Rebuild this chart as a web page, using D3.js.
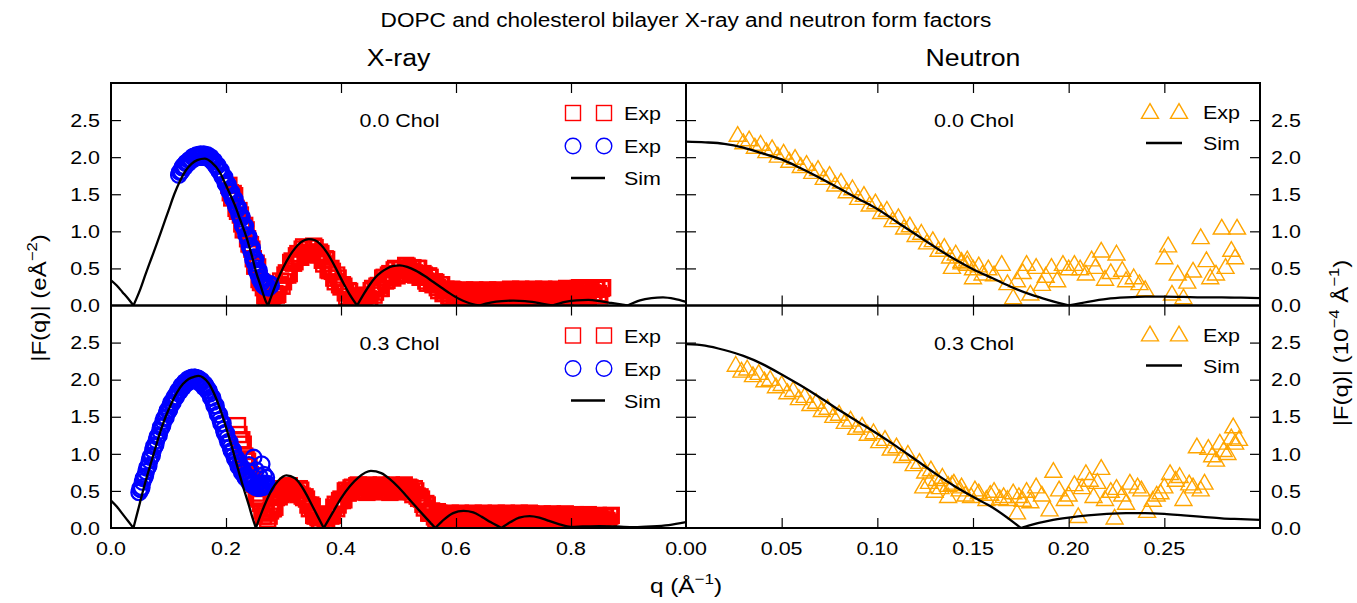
<!DOCTYPE html>
<html>
<head>
<meta charset="utf-8">
<script src="https://cdn.jsdelivr.net/npm/d3@7"></script>
<style>
  body { margin: 0; background: #fff; }
  svg text { font-family: "Liberation Sans", Arial, Helvetica, sans-serif; fill: #000; }
</style>
</head>
<body>
<svg id="chart" width="1357" height="603"></svg>
<script>
// ---- ticks / labels ----
const xrayTicks = [0.2, 0.4, 0.6, 0.8];
const xrayTickLabels = [0, 0.2, 0.4, 0.6, 0.8];
const neutTicks = [0.05, 0.1, 0.15, 0.2, 0.25];
const neutTickLabels = [0, 0.05, 0.1, 0.15, 0.2, 0.25];
const yTicks = [0.5, 1, 1.5, 2, 2.5];
const yTickLabels = [0, 0.5, 1, 1.5, 2, 2.5];

// ---- X-ray, 0.0 Chol ----
const xraySim00 = [[0,0.34],[0.01,0.27],[0.02,0.18],[0.03,0.09],[0.039,0],[0.05,0.2],[0.06,0.42],[0.07,0.63],[0.08,0.84],[0.09,1.06],[0.1,1.28],[0.11,1.5],[0.12,1.68],[0.13,1.82],[0.14,1.91],[0.15,1.96],[0.163,1.98],[0.175,1.93],[0.189,1.8],[0.2,1.62],[0.215,1.36],[0.225,1.15],[0.236,0.91],[0.245,0.67],[0.252,0.46],[0.26,0.27],[0.269,0.06],[0.273,0],[0.28,0.15],[0.29,0.35],[0.3,0.52],[0.31,0.66],[0.32,0.77],[0.33,0.85],[0.344,0.895],[0.355,0.88],[0.365,0.82],[0.375,0.72],[0.385,0.59],[0.395,0.44],[0.405,0.29],[0.415,0.15],[0.428,0],[0.44,0.16],[0.45,0.28],[0.46,0.38],[0.47,0.45],[0.48,0.5],[0.49,0.53],[0.502,0.54],[0.515,0.52],[0.53,0.47],[0.545,0.4],[0.56,0.32],[0.575,0.24],[0.59,0.16],[0.605,0.09],[0.62,0.04],[0.64,0],[0.66,0.04],[0.68,0.06],[0.7,0.065],[0.72,0.06],[0.74,0.04],[0.767,0],[0.79,0.05],[0.81,0.07],[0.83,0.075],[0.85,0.06],[0.87,0.035],[0.898,0],[0.92,0.07],[0.94,0.1],[0.96,0.11],[0.98,0.09],[1.0,0.05]];
const xrayRed00 = [[0.205,1.62],[0.21,1.45],[0.215,1.48],[0.22,1.27],[0.225,1.22],[0.23,1.02],[0.235,1.02],[0.24,0.83],[0.245,0.76],[0.25,0.53],[0.255,0.52],[0.26,0.31],[0.265,0.24],[0.27,0.06],[0.275,0.11],[0.28,0.06],[0.285,0.16],[0.29,0.15],[0.295,0.33],[0.3,0.32],[0.305,0.44],[0.31,0.43],[0.315,0.6],[0.32,0.59],[0.325,0.7],[0.33,0.65],[0.335,0.79],[0.34,0.72],[0.345,0.78],[0.35,0.69],[0.355,0.78],[0.36,0.68],[0.365,0.7],[0.37,0.56],[0.375,0.62],[0.38,0.47],[0.385,0.46],[0.39,0.32],[0.395,0.37],[0.4,0.25],[0.405,0.26],[0.41,0.12],[0.415,0.19],[0.42,0.07],[0.425,0.1],[0.43,0.04],[0.435,0.12],[0.44,0.06],[0.445,0.14],[0.45,0.08],[0.455,0.23],[0.46,0.18],[0.465,0.27],[0.47,0.23],[0.475,0.38],[0.48,0.34],[0.485,0.43],[0.49,0.37],[0.495,0.5],[0.5,0.43],[0.505,0.49],[0.51,0.42],[0.515,0.53],[0.52,0.46],[0.525,0.51],[0.53,0.41],[0.535,0.5],[0.54,0.39],[0.545,0.41],[0.55,0.3],[0.555,0.38],[0.56,0.28],[0.565,0.31],[0.57,0.2],[0.575,0.28],[0.58,0.17],[0.585,0.2],[0.59,0.11],[0.595,0.21],[0.6,0.13],[0.605,0.19],[0.61,0.1],[0.615,0.21],[0.62,0.11],[0.625,0.16],[0.63,0.09],[0.635,0.2],[0.64,0.13],[0.645,0.19],[0.65,0.1],[0.655,0.21],[0.66,0.12],[0.665,0.17],[0.67,0.09],[0.675,0.2],[0.68,0.13],[0.685,0.19],[0.69,0.1],[0.695,0.22],[0.7,0.13],[0.705,0.18],[0.71,0.1],[0.715,0.21],[0.72,0.14],[0.725,0.2],[0.73,0.11],[0.735,0.22],[0.74,0.13],[0.745,0.18],[0.75,0.1],[0.755,0.21],[0.76,0.14],[0.765,0.2],[0.77,0.11],[0.775,0.22],[0.78,0.14],[0.785,0.19],[0.79,0.11],[0.795,0.22],[0.8,0.15],[0.805,0.22],[0.81,0.13],[0.815,0.24],[0.82,0.15],[0.825,0.2],[0.83,0.12],[0.835,0.23],[0.84,0.16],[0.845,0.22],[0.85,0.13],[0.855,0.24]];
const xrayRed00b = [[0.2075,1.52],[0.2125,1.51],[0.2175,1.31],[0.2225,1.28],[0.2275,1.1],[0.2325,1.08],[0.2375,0.9],[0.2425,0.82],[0.2475,0.63],[0.2525,0.57],[0.2575,0.35],[0.2625,0.31],[0.2675,0.13],[0.2725,0.15],[0.2775,0.06],[0.2825,0.14],[0.2875,0.14],[0.2925,0.28],[0.2975,0.26],[0.3025,0.41],[0.3075,0.41],[0.3125,0.58],[0.3175,0.57],[0.3225,0.67],[0.3275,0.66],[0.3325,0.76],[0.3375,0.69],[0.3425,0.78],[0.3475,0.71],[0.3525,0.8],[0.3575,0.7],[0.3625,0.72],[0.3675,0.61],[0.3725,0.63],[0.3775,0.48],[0.3825,0.5],[0.3875,0.37],[0.3925,0.41],[0.3975,0.28],[0.4025,0.28],[0.4075,0.17],[0.4125,0.2],[0.4175,0.06],[0.4225,0.12],[0.4275,0.03],[0.4325,0.13],[0.4375,0.06],[0.4425,0.13],[0.4475,0.09],[0.4525,0.2],[0.4575,0.14],[0.4625,0.26],[0.4675,0.23],[0.4725,0.37],[0.4775,0.33],[0.4825,0.41],[0.4875,0.38],[0.4925,0.48],[0.4975,0.4],[0.5025,0.49],[0.5075,0.43],[0.5125,0.54],[0.5175,0.47],[0.5225,0.51],[0.5275,0.44],[0.5325,0.5],[0.5375,0.38],[0.5425,0.43],[0.5475,0.33],[0.5525,0.4],[0.5575,0.3],[0.5625,0.32],[0.5675,0.24],[0.5725,0.28],[0.5775,0.16],[0.5825,0.22],[0.5875,0.13],[0.5925,0.22],[0.5975,0.14],[0.6025,0.19],[0.6075,0.13],[0.6125,0.2],[0.6175,0.1],[0.6225,0.17],[0.6275,0.1],[0.6325,0.21],[0.6375,0.14],[0.6425,0.19],[0.6475,0.13],[0.6525,0.2],[0.6575,0.1],[0.6625,0.18],[0.6675,0.11],[0.6725,0.21],[0.6775,0.14],[0.6825,0.19],[0.6875,0.13],[0.6925,0.2],[0.6975,0.11],[0.7025,0.19],[0.7075,0.12],[0.7125,0.22],[0.7175,0.15],[0.7225,0.2],[0.7275,0.14],[0.7325,0.21],[0.7375,0.11],[0.7425,0.19],[0.7475,0.12],[0.7525,0.22],[0.7575,0.15],[0.7625,0.2],[0.7675,0.14],[0.7725,0.21],[0.7775,0.11],[0.7825,0.2],[0.7875,0.13],[0.7925,0.23],[0.7975,0.16],[0.8025,0.22],[0.8075,0.16],[0.8125,0.23],[0.8175,0.13],[0.8225,0.21],[0.8275,0.14],[0.8325,0.24],[0.8375,0.17],[0.8425,0.22],[0.8475,0.16],[0.8525,0.23]];
const xrayBlue00 = [[0.118,1.76],[0.121,1.8],[0.124,1.86],[0.127,1.87],[0.13,1.92],[0.133,1.92],[0.136,1.96],[0.139,1.96],[0.142,2.0],[0.145,1.99],[0.148,2.02],[0.151,2.0],[0.154,2.03],[0.157,2.0],[0.16,2.03],[0.163,2.0],[0.166,2.01],[0.169,1.99],[0.172,1.98],[0.175,1.96],[0.178,1.95],[0.181,1.9],[0.184,1.88],[0.187,1.83],[0.19,1.81],[0.193,1.75],[0.196,1.72],[0.199,1.65],[0.202,1.62],[0.205,1.55],[0.208,1.52],[0.211,1.45],[0.214,1.42],[0.217,1.34],[0.22,1.3],[0.223,1.22],[0.226,1.17],[0.229,1.08],[0.232,1.04],[0.235,0.95],[0.238,0.89],[0.241,0.8],[0.244,0.73],[0.247,0.62],[0.25,0.57],[0.253,0.47],[0.256,0.42],[0.259,0.35],[0.262,0.31],[0.265,0.27],[0.268,0.25],[0.271,0.26],[0.274,0.24],[0.277,0.29]];
const xrayBlue00b = [[0.1195,1.8],[0.1225,1.81],[0.1255,1.88],[0.1285,1.87],[0.1315,1.93],[0.1345,1.92],[0.1375,1.97],[0.1405,1.96],[0.1435,2.01],[0.1465,1.99],[0.1495,2.03],[0.1525,2.0],[0.1555,2.04],[0.1585,2.0],[0.1615,2.04],[0.1645,2.0],[0.1675,2.03],[0.1705,1.98],[0.1735,2.0],[0.1765,1.94],[0.1795,1.95],[0.1825,1.88],[0.1855,1.89],[0.1885,1.81],[0.1915,1.82],[0.1945,1.73],[0.1975,1.73],[0.2005,1.63],[0.2035,1.63],[0.2065,1.53],[0.2095,1.53],[0.2125,1.43],[0.2155,1.43],[0.2185,1.32],[0.2215,1.32],[0.2245,1.2],[0.2275,1.2],[0.2305,1.07],[0.2335,1.07],[0.2365,0.94],[0.2395,0.93],[0.2425,0.8],[0.2455,0.78],[0.2485,0.65],[0.2515,0.62],[0.2545,0.5],[0.2575,0.47],[0.2605,0.37],[0.2635,0.35],[0.2665,0.28],[0.2695,0.29],[0.2725,0.25],[0.2755,0.29],[0.2785,0.27]];

// ---- X-ray, 0.3 Chol ----
const xraySim03 = [[0,0.37],[0.01,0.29],[0.02,0.19],[0.03,0.09],[0.039,0],[0.045,0.18],[0.05,0.33],[0.058,0.57],[0.065,0.76],[0.075,1.02],[0.085,1.28],[0.095,1.5],[0.105,1.68],[0.115,1.83],[0.125,1.94],[0.135,2.01],[0.145,2.04],[0.152,2.05],[0.16,2.03],[0.17,1.95],[0.18,1.8],[0.19,1.6],[0.2,1.36],[0.21,1.1],[0.22,0.82],[0.23,0.55],[0.24,0.3],[0.246,0.14],[0.252,0],[0.26,0.17],[0.27,0.36],[0.28,0.52],[0.29,0.63],[0.305,0.71],[0.32,0.67],[0.33,0.58],[0.34,0.45],[0.35,0.3],[0.36,0.15],[0.37,0],[0.385,0.2],[0.4,0.4],[0.415,0.56],[0.43,0.68],[0.452,0.77],[0.47,0.74],[0.485,0.66],[0.5,0.55],[0.515,0.42],[0.53,0.29],[0.545,0.16],[0.564,0],[0.58,0.12],[0.595,0.2],[0.613,0.23],[0.63,0.21],[0.645,0.15],[0.66,0.08],[0.679,0],[0.695,0.08],[0.71,0.14],[0.728,0.16],[0.745,0.14],[0.76,0.1],[0.78,0.05],[0.8,0.015],[0.82,0.02],[0.85,0.025],[0.88,0.02],[0.91,0.01],[0.94,0.02],[0.97,0.04],[1.0,0.08]];
const xrayRed03 = [[0.22,1.38],[0.225,1.18],[0.23,1.13],[0.235,0.93],[0.24,0.83],[0.245,0.63],[0.25,0.59],[0.255,0.41],[0.26,0.33],[0.265,0.16],[0.27,0.2],[0.275,0.16],[0.28,0.26],[0.285,0.28],[0.29,0.44],[0.295,0.45],[0.3,0.53],[0.305,0.48],[0.31,0.57],[0.315,0.5],[0.32,0.52],[0.325,0.45],[0.33,0.51],[0.335,0.41],[0.34,0.39],[0.345,0.26],[0.35,0.29],[0.355,0.16],[0.36,0.14],[0.365,0.05],[0.37,0.14],[0.375,0.11],[0.38,0.19],[0.385,0.17],[0.39,0.32],[0.395,0.31],[0.4,0.39],[0.405,0.38],[0.41,0.51],[0.415,0.49],[0.42,0.55],[0.425,0.49],[0.43,0.58],[0.435,0.51],[0.44,0.54],[0.445,0.48],[0.45,0.57],[0.455,0.52],[0.46,0.56],[0.465,0.49],[0.47,0.58],[0.475,0.51],[0.48,0.54],[0.485,0.48],[0.49,0.57],[0.495,0.52],[0.5,0.56],[0.505,0.49],[0.51,0.58],[0.515,0.51],[0.52,0.54],[0.525,0.45],[0.53,0.5],[0.535,0.4],[0.54,0.39],[0.545,0.27],[0.55,0.31],[0.555,0.2],[0.56,0.2],[0.565,0.12],[0.57,0.2],[0.575,0.14],[0.58,0.18],[0.585,0.11],[0.59,0.2],[0.595,0.13],[0.6,0.16],[0.605,0.1],[0.61,0.19],[0.615,0.14],[0.62,0.18],[0.625,0.11],[0.63,0.2],[0.635,0.13],[0.64,0.16],[0.645,0.1],[0.65,0.19],[0.655,0.14],[0.66,0.18],[0.665,0.11],[0.67,0.2],[0.675,0.13],[0.68,0.16],[0.685,0.1],[0.69,0.19],[0.695,0.14],[0.7,0.18],[0.705,0.11],[0.71,0.2],[0.715,0.13],[0.72,0.16],[0.725,0.1],[0.73,0.19],[0.735,0.13],[0.74,0.17],[0.745,0.1],[0.75,0.19],[0.755,0.12],[0.76,0.15],[0.765,0.09],[0.77,0.18],[0.775,0.13],[0.78,0.17],[0.785,0.1],[0.79,0.19],[0.795,0.12],[0.8,0.15],[0.805,0.08],[0.81,0.17],[0.815,0.12],[0.82,0.16],[0.825,0.09],[0.83,0.18],[0.835,0.11],[0.84,0.14],[0.845,0.07],[0.85,0.16],[0.855,0.11],[0.86,0.15],[0.865,0.08],[0.87,0.17]];
const xrayRed03b = [[0.2225,1.26],[0.2275,1.19],[0.2325,0.97],[0.2375,0.9],[0.2425,0.72],[0.2475,0.66],[0.2525,0.47],[0.2575,0.39],[0.2625,0.23],[0.2675,0.21],[0.2725,0.12],[0.2775,0.23],[0.2825,0.26],[0.2875,0.41],[0.2925,0.42],[0.2975,0.51],[0.3025,0.49],[0.3075,0.56],[0.3125,0.48],[0.3175,0.53],[0.3225,0.47],[0.3275,0.53],[0.3325,0.43],[0.3375,0.42],[0.3425,0.31],[0.3475,0.31],[0.3525,0.17],[0.3575,0.17],[0.3625,0.08],[0.3675,0.15],[0.3725,0.1],[0.3775,0.17],[0.3825,0.16],[0.3875,0.28],[0.3925,0.26],[0.3975,0.37],[0.4025,0.37],[0.4075,0.5],[0.4125,0.47],[0.4175,0.54],[0.4225,0.5],[0.4275,0.57],[0.4325,0.49],[0.4375,0.55],[0.4425,0.5],[0.4475,0.58],[0.4525,0.52],[0.4575,0.56],[0.4625,0.51],[0.4675,0.57],[0.4725,0.49],[0.4775,0.55],[0.4825,0.5],[0.4875,0.58],[0.4925,0.52],[0.4975,0.56],[0.5025,0.51],[0.5075,0.57],[0.5125,0.49],[0.5175,0.55],[0.5225,0.49],[0.5275,0.53],[0.5325,0.43],[0.5375,0.42],[0.5425,0.32],[0.5475,0.33],[0.5525,0.2],[0.5575,0.23],[0.5625,0.15],[0.5675,0.22],[0.5725,0.15],[0.5775,0.18],[0.5825,0.13],[0.5875,0.19],[0.5925,0.11],[0.5975,0.17],[0.6025,0.12],[0.6075,0.2],[0.6125,0.14],[0.6175,0.18],[0.6225,0.13],[0.6275,0.19],[0.6325,0.11],[0.6375,0.17],[0.6425,0.12],[0.6475,0.2],[0.6525,0.14],[0.6575,0.18],[0.6625,0.13],[0.6675,0.19],[0.6725,0.11],[0.6775,0.17],[0.6825,0.12],[0.6875,0.2],[0.6925,0.14],[0.6975,0.18],[0.7025,0.13],[0.7075,0.19],[0.7125,0.11],[0.7175,0.17],[0.7225,0.12],[0.7275,0.2],[0.7325,0.13],[0.7375,0.17],[0.7425,0.12],[0.7475,0.18],[0.7525,0.1],[0.7575,0.16],[0.7625,0.11],[0.7675,0.19],[0.7725,0.13],[0.7775,0.17],[0.7825,0.12],[0.7875,0.18],[0.7925,0.1],[0.7975,0.16],[0.8025,0.1],[0.8075,0.18],[0.8125,0.12],[0.8175,0.16],[0.8225,0.11],[0.8275,0.17],[0.8325,0.09],[0.8375,0.15],[0.8425,0.09],[0.8475,0.17],[0.8525,0.11],[0.8575,0.15],[0.8625,0.1],[0.8675,0.16]];
const xrayBlue03 = [[0.049,0.48],[0.052,0.52],[0.055,0.62],[0.058,0.68],[0.061,0.76],[0.064,0.82],[0.067,0.91],[0.07,0.96],[0.073,1.05],[0.076,1.1],[0.079,1.18],[0.082,1.24],[0.085,1.31],[0.088,1.36],[0.091,1.44],[0.094,1.48],[0.097,1.55],[0.1,1.58],[0.103,1.65],[0.106,1.68],[0.109,1.74],[0.112,1.76],[0.115,1.82],[0.118,1.84],[0.121,1.89],[0.124,1.9],[0.127,1.95],[0.13,1.95],[0.133,1.99],[0.136,1.98],[0.139,2.02],[0.142,2.0],[0.145,2.03],[0.148,2.0],[0.151,2.02],[0.154,1.98],[0.157,1.99],[0.16,1.93],[0.163,1.94],[0.166,1.9],[0.169,1.86],[0.172,1.81],[0.175,1.76],[0.178,1.7],[0.181,1.65],[0.184,1.58],[0.187,1.53],[0.19,1.46],[0.193,1.41],[0.196,1.33],[0.199,1.28],[0.202,1.21],[0.205,1.16],[0.208,1.09],[0.211,1.04],[0.214,0.98],[0.217,0.93],[0.22,0.88],[0.223,0.83],[0.226,0.79],[0.229,0.75],[0.232,0.71],[0.235,0.69],[0.238,0.65],[0.241,0.63],[0.244,0.6],[0.247,0.59],[0.25,0.56],[0.253,0.57],[0.256,0.54],[0.259,0.56],[0.262,0.55],[0.265,0.58],[0.268,0.56],[0.271,0.6],[0.24,0.85],[0.248,0.95],[0.252,0.78],[0.258,0.7],[0.262,0.86],[0.266,0.72],[0.27,0.68]];
const xrayBlue03b = [[0.0505,0.53],[0.0535,0.55],[0.0565,0.67],[0.0595,0.7],[0.0625,0.81],[0.0655,0.84],[0.0685,0.96],[0.0715,0.98],[0.0745,1.1],[0.0775,1.12],[0.0805,1.23],[0.0835,1.25],[0.0865,1.36],[0.0895,1.38],[0.0925,1.48],[0.0955,1.49],[0.0985,1.59],[0.1015,1.59],[0.1045,1.69],[0.1075,1.69],[0.1105,1.77],[0.1135,1.77],[0.1165,1.85],[0.1195,1.84],[0.1225,1.92],[0.1255,1.9],[0.1285,1.97],[0.1315,1.95],[0.1345,2.01],[0.1375,1.98],[0.1405,2.03],[0.1435,2.0],[0.1465,2.03],[0.1495,1.99],[0.1525,2.01],[0.1555,1.95],[0.1585,1.97],[0.1615,1.9],[0.1645,1.91],[0.1675,1.85],[0.1705,1.85],[0.1735,1.76],[0.1765,1.76],[0.1795,1.65],[0.1825,1.65],[0.1855,1.53],[0.1885,1.53],[0.1915,1.41],[0.1945,1.41],[0.1975,1.28],[0.2005,1.28],[0.2035,1.16],[0.2065,1.16],[0.2095,1.04],[0.2125,1.05],[0.2155,0.93],[0.2185,0.94],[0.2215,0.83],[0.2245,0.84],[0.2275,0.75],[0.2305,0.76],[0.2335,0.68],[0.2365,0.7],[0.2395,0.62],[0.2425,0.65],[0.2455,0.58],[0.2485,0.61],[0.2515,0.55],[0.2545,0.59],[0.2575,0.54],[0.2605,0.59],[0.2635,0.55],[0.2665,0.6],[0.2695,0.57]];

// ---- Neutron, 0.0 Chol ----
const neutSim00 = [[0,2.21],[0.01,2.2],[0.02,2.18],[0.03,2.13],[0.04,2.05],[0.05,1.97],[0.06,1.85],[0.07,1.72],[0.08,1.58],[0.09,1.44],[0.1,1.3],[0.11,1.13],[0.12,0.96],[0.13,0.79],[0.14,0.63],[0.15,0.49],[0.16,0.37],[0.17,0.25],[0.18,0.15],[0.19,0.07],[0.2,0],[0.21,0.05],[0.22,0.09],[0.23,0.11],[0.24,0.12],[0.25,0.12],[0.26,0.115],[0.27,0.11],[0.28,0.11],[0.29,0.105],[0.3,0.1]];
const neutExp00 = [[0.027,2.3],[0.03,2.2],[0.033,2.24],[0.036,2.14],[0.039,2.18],[0.042,2.08],[0.045,2.12],[0.048,2.02],[0.051,2.06],[0.054,1.95],[0.057,1.99],[0.06,1.88],[0.063,1.91],[0.066,1.8],[0.069,1.84],[0.072,1.72],[0.075,1.76],[0.078,1.63],[0.081,1.67],[0.084,1.54],[0.087,1.58],[0.09,1.45],[0.093,1.49],[0.096,1.36],[0.099,1.39],[0.102,1.26],[0.105,1.29],[0.108,1.15],[0.111,1.19],[0.114,1.05],[0.117,1.08],[0.12,0.95],[0.123,0.98],[0.126,0.85],[0.129,0.88],[0.132,0.75],[0.135,0.79],[0.138,0.66],[0.141,0.7],[0.144,0.58],[0.147,0.62],[0.15,0.5],[0.153,0.54],
  [0.139,0.52],[0.144,0.6],[0.147,0.56],[0.15,0.38],[0.155,0.43],[0.158,0.5],[0.161,0.42],[0.165,0.56],[0.168,0.3],[0.171,0.11],[0.173,0.34],[0.176,0.45],[0.178,0.56],[0.18,0.16],[0.183,0.52],[0.186,0.29],[0.188,0.4],[0.191,0.52],[0.194,0.34],[0.197,0.56],[0.2,0.5],[0.203,0.56],[0.206,0.5],[0.209,0.43],[0.212,0.62],[0.214,0.52],[0.217,0.74],[0.219,0.36],[0.222,0.45],[0.225,0.7],[0.228,0.48],[0.23,0.34],[0.234,0.38],[0.237,0.3],[0.24,0.22],[0.25,0.65],[0.252,0.81],[0.254,0.16],[0.257,0.43],[0.26,0.11],[0.262,0.32],[0.265,0.47],[0.269,0.92],[0.272,0.61],[0.274,0.38],[0.277,0.43],[0.28,1.05],[0.282,0.52],[0.285,0.75],[0.287,0.65],[0.288,1.05]];

// ---- Neutron, 0.3 Chol ----
const neutSim03 = [[0,2.48],[0.01,2.46],[0.02,2.4],[0.03,2.32],[0.04,2.21],[0.05,2.07],[0.06,1.92],[0.07,1.76],[0.08,1.59],[0.09,1.43],[0.1,1.27],[0.11,1.1],[0.12,0.92],[0.13,0.74],[0.14,0.57],[0.15,0.42],[0.16,0.28],[0.17,0.1],[0.175,0],[0.18,0.04],[0.19,0.1],[0.2,0.14],[0.21,0.17],[0.22,0.19],[0.23,0.2],[0.24,0.2],[0.25,0.19],[0.26,0.17],[0.27,0.15],[0.28,0.13],[0.29,0.12],[0.3,0.11]];
const neutExp03 = [[0.026,2.2],[0.029,2.12],[0.032,2.15],[0.035,2.06],[0.038,2.09],[0.041,1.99],[0.044,2.01],[0.047,1.91],[0.05,1.94],[0.053,1.83],[0.056,1.86],[0.059,1.75],[0.062,1.78],[0.065,1.67],[0.068,1.7],[0.071,1.59],[0.074,1.62],[0.077,1.51],[0.08,1.54],[0.083,1.43],[0.086,1.46],[0.089,1.35],[0.092,1.38],[0.095,1.27],[0.098,1.29],[0.101,1.17],[0.104,1.2],[0.107,1.07],[0.11,1.1],[0.113,0.97],[0.116,1.0],[0.119,0.86],[0.122,0.89],[0.125,0.76],[0.128,0.79],[0.131,0.66],[0.134,0.69],[0.137,0.58],[0.14,0.61],[0.143,0.52],
  [0.124,0.56],[0.127,0.62],[0.13,0.5],[0.133,0.55],[0.137,0.43],[0.139,0.59],[0.144,0.56],[0.146,0.45],[0.149,0.43],[0.151,0.52],[0.153,0.48],[0.157,0.39],[0.159,0.46],[0.161,0.5],[0.164,0.4],[0.166,0.43],[0.168,0.39],[0.171,0.48],[0.173,0.21],[0.174,0.43],[0.176,0.38],[0.178,0.5],[0.18,0.36],[0.183,0.56],[0.186,0.45],[0.19,0.25],[0.192,0.77],[0.195,0.52],[0.198,0.39],[0.2,0.45],[0.203,0.59],[0.205,0.16],[0.207,0.55],[0.209,0.74],[0.211,0.65],[0.213,0.43],[0.215,0.62],[0.217,0.81],[0.219,0.39],[0.222,0.5],[0.224,0.14],[0.225,0.54],[0.228,0.45],[0.23,0.34],[0.232,0.61],[0.236,0.56],[0.238,0.52],[0.241,0.23],[0.244,0.38],[0.246,0.45],[0.248,0.48],[0.25,0.56],[0.253,0.74],[0.256,0.65],[0.258,0.7],[0.26,0.39],[0.263,0.6],[0.265,0.56],[0.267,1.1],[0.269,0.52],[0.271,0.61],[0.273,1.08],[0.275,0.98],[0.277,0.92],[0.279,1.15],[0.281,1.05],[0.283,1.01],[0.285,1.22],[0.286,1.37],[0.287,1.15],[0.289,1.2]];

// ---- layout ----
const SX = 1.16; // reference text is stretched horizontally
const svg = d3.select('#chart');

const xX = d3.scaleLinear().domain([0, 1.0]).range([111, 686]);
const xN = d3.scaleLinear().domain([0, 0.3]).range([686, 1260]);
const yTop = d3.scaleLinear().domain([0, 3]).range([305.5, 83]);
const yBot = d3.scaleLinear().domain([0, 3]).range([528, 305.5]);

// text helper: parts = [[str, isSup], ...]
function addText(parent, x, y, parts, opt = {}) {
  const size = opt.size || 18.5;
  const sx = opt.sx || SX;
  const t = parent.append('text')
    .attr('transform', `translate(${x},${y}) scale(${sx},1)` + (opt.rotate ? ` rotate(${opt.rotate})` : ''))
    .attr('text-anchor', opt.anchor || 'start')
    .style('font-size', size + 'px');
  if (typeof parts === 'string') parts = [[parts, false]];
  let up = false;
  const lift = Math.round(size * 0.45);
  parts.forEach(([s, sup]) => {
    const sp = t.append('tspan').text(s);
    if (sup && !up) { sp.attr('dy', -lift).style('font-size', (size * 0.7) + 'px'); up = true; }
    else if (sup) { sp.style('font-size', (size * 0.7) + 'px'); }
    else if (!sup && up) { sp.attr('dy', lift); up = false; }
  });
  return t;
}

// split |F| curve at its zeros so cusps stay sharp
function lobes(data) {
  const out = [];
  let cur = [];
  data.forEach(d => {
    cur.push(d);
    if (d[1] === 0 && cur.length > 1) { out.push(cur); cur = [d]; }
  });
  if (cur.length > 1) out.push(cur);
  return out;
}

const triPath = d3.symbol().type(d3.symbolTriangle).size(125)();

const panels = [
  { id: 'xt', x: xX, y: yTop, chol: '0.0 Chol', sim: xraySim00, red: xrayRed00.concat(xrayRed00b), blue: xrayBlue00.concat(xrayBlue00b) },
  { id: 'xb', x: xX, y: yBot, chol: '0.3 Chol', sim: xraySim03, red: xrayRed03.concat(xrayRed03b), blue: xrayBlue03.concat(xrayBlue03b) },
  { id: 'nt', x: xN, y: yTop, chol: '0.0 Chol', sim: neutSim00, tri: neutExp00 },
  { id: 'nb', x: xN, y: yBot, chol: '0.3 Chol', sim: neutSim03, tri: neutExp03 }
];

panels.forEach(p => {
  const [x0, x1] = p.x.range();
  const [yb, yt] = p.y.range();
  const g = svg.append('g');

  svg.append('clipPath').attr('id', 'clip-' + p.id)
    .append('rect').attr('x', x0).attr('y', yt).attr('width', x1 - x0).attr('height', yb - yt);
  const plot = g.append('g').attr('clip-path', `url(#clip-${p.id})`);

  if (p.red) {
    plot.selectAll('rect.red').data(p.red).join('rect')
      .attr('x', d => p.x(d[0]) - 7.5).attr('y', d => p.y(d[1]) - 7.5)
      .attr('width', 15).attr('height', 15)
      .attr('fill', 'none').attr('stroke', '#ff0000').attr('stroke-width', 2.4);
  }
  if (p.blue) {
    plot.selectAll('circle.blue').data(p.blue).join('circle')
      .attr('cx', d => p.x(d[0])).attr('cy', d => p.y(d[1])).attr('r', 7.8)
      .attr('fill', 'none').attr('stroke', '#0000ff').attr('stroke-width', 2.3);
  }
  if (p.tri) {
    plot.selectAll('path.tri').data(p.tri).join('path')
      .attr('d', triPath)
      .attr('transform', d => `translate(${p.x(d[0])},${p.y(d[1]) + 1.5})`)
      .attr('fill', 'none').attr('stroke', '#ffa500').attr('stroke-width', 1.4);
  }

  const line = d3.line().x(d => p.x(d[0])).y(d => p.y(d[1])).curve(d3.curveMonotoneX);
  plot.selectAll('path.sim').data(lobes(p.sim)).join('path')
    .attr('d', line).attr('fill', 'none').attr('stroke', '#000').attr('stroke-width', 2.3);

  // inward ticks on all four sides
  const isX = p.id[0] === 'x';
  const xt = isX ? xrayTicks : neutTicks;
  const tickStyle = s => s.call(a => a.select('.domain').remove())
    .selectAll('line').attr('stroke', '#000').attr('stroke-width', 1.2);
  g.append('g').attr('transform', `translate(0,${yb})`)
    .call(d3.axisBottom(p.x).tickValues(xt).tickSize(-10).tickFormat('')).call(tickStyle);
  g.append('g').attr('transform', `translate(0,${yt})`)
    .call(d3.axisTop(p.x).tickValues(xt).tickSize(-10).tickFormat('')).call(tickStyle);
  g.append('g').attr('transform', `translate(${x0},0)`)
    .call(d3.axisLeft(p.y).tickValues(yTicks).tickSize(-10).tickFormat('')).call(tickStyle);
  g.append('g').attr('transform', `translate(${x1},0)`)
    .call(d3.axisRight(p.y).tickValues(yTicks).tickSize(-10).tickFormat('')).call(tickStyle);

  g.append('rect').attr('x', x0).attr('y', yt).attr('width', x1 - x0).attr('height', yb - yt)
    .attr('fill', 'none').attr('stroke', '#000').attr('stroke-width', 2);

  // outer tick labels
  if (isX) {
    yTickLabels.forEach(v => addText(g, x0 - 11, p.y(v) + 6.7, d3.format('.1f')(v), { anchor: 'end' }));
  } else {
    yTickLabels.forEach(v => addText(g, x1 + 11, p.y(v) + 6.7, d3.format('.1f')(v)));
  }
  if (p.id[1] === 'b') {
    const labs = isX ? xrayTickLabels : neutTickLabels;
    const fmt = d3.format(isX ? '.1f' : '.2f');
    labs.forEach(v => addText(g, p.x(v), 555, fmt(v), { anchor: 'middle' }));
  }

  // panel note
  addText(g, (x0 + x1) / 2 + 1, yt + 44, p.chol, { anchor: 'middle' });

  // legend
  if (isX) {
    const ly = [yt + 30, yt + 63, yt + 95];
    [x1 - 113, x1 - 82].forEach(cx => {
      g.append('rect').attr('x', cx - 7.5).attr('y', ly[0] - 7.5).attr('width', 15).attr('height', 15)
        .attr('fill', 'none').attr('stroke', '#ff0000').attr('stroke-width', 1.4);
      g.append('circle').attr('cx', cx).attr('cy', ly[1]).attr('r', 7.8)
        .attr('fill', 'none').attr('stroke', '#0000ff').attr('stroke-width', 1.4);
    });
    g.append('line').attr('x1', x1 - 115).attr('x2', x1 - 81).attr('y1', ly[2]).attr('y2', ly[2])
      .attr('stroke', '#000').attr('stroke-width', 2.3);
    addText(g, x1 - 62, ly[0] + 7, 'Exp');
    addText(g, x1 - 62, ly[1] + 7, 'Exp');
    addText(g, x1 - 62, ly[2] + 7, 'Sim');
  } else {
    const ly = [yt + 29, yt + 60];
    [x1 - 110, x1 - 81].forEach(cx => {
      g.append('path').attr('d', triPath).attr('transform', `translate(${cx},${ly[0] + 1.5})`)
        .attr('fill', 'none').attr('stroke', '#ffa500').attr('stroke-width', 1.4);
    });
    g.append('line').attr('x1', x1 - 114).attr('x2', x1 - 78).attr('y1', ly[1]).attr('y2', ly[1])
      .attr('stroke', '#000').attr('stroke-width', 2.3);
    addText(g, x1 - 57, ly[0] + 7, 'Exp');
    addText(g, x1 - 57, ly[1] + 7, 'Sim');
  }
});

// titles and axis labels
addText(svg, 686, 27, 'DOPC and cholesterol bilayer X-ray and neutron form factors', { anchor: 'middle', size: 19.5 });
addText(svg, 398.5, 66, 'X-ray', { anchor: 'middle', size: 23 });
addText(svg, 973, 66, 'Neutron', { anchor: 'middle', size: 23 });
addText(svg, 686, 593, [['q (Å', false], ['−1', true], [')', false]], { anchor: 'middle', size: 21 });
addText(svg, 46, 298, [['|F(q)| (eÅ', false], ['−2', true], [')', false]], { anchor: 'middle', rotate: -90, size: 24, sx: 0.86 });
addText(svg, 1348, 343, [['|F(q)| (10', false], ['−4', true], [' Å', false], ['−1', true], [')', false]], { anchor: 'middle', rotate: -90, size: 24, sx: 0.86 });
</script>
</body>
</html>
